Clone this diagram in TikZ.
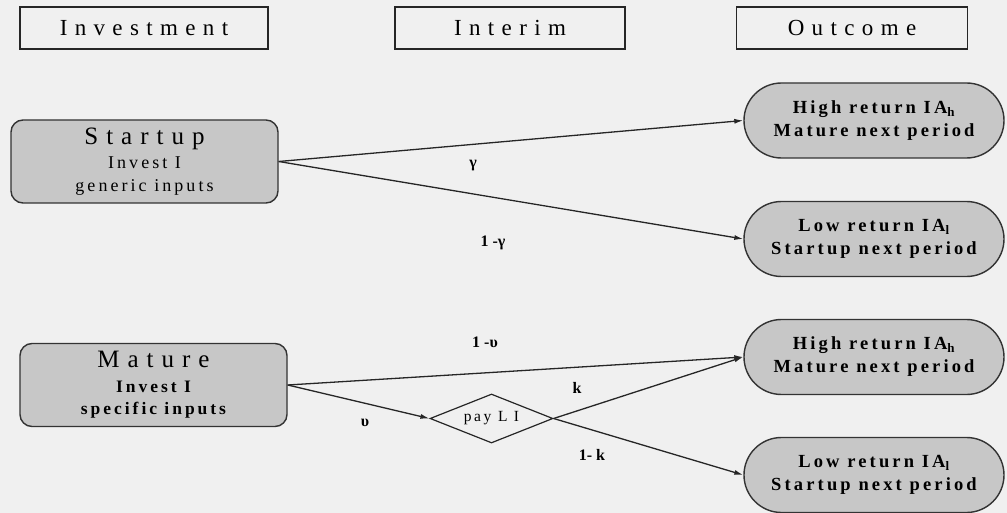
\documentclass[tikz,border=0pt]{standalone}
\usepackage{fontspec}
\setmainfont{Liberation Serif}
\newfontfamily\spaced[LetterSpace=32]{Liberation Serif}
\newfontfamily\wide[LetterSpace=17]{Liberation Serif}
\usetikzlibrary{arrows.meta,shapes.geometric,shapes.misc}
\begin{document}
\begin{tikzpicture}[x=1pt,y=-1pt,
  header/.style={draw=black!85,line width=1.1pt,minimum width=#1,minimum height=42pt,
    font=\spaced\fontsize{23}{25}\selectfont,inner sep=0pt},
  origin/.style={draw=black!80,line width=1.4pt,rounded corners=12pt,fill=black!22,
    minimum width=267pt,minimum height=83pt,align=center,inner sep=1pt,
    font=\wide\fontsize{18}{22.5}\selectfont},
  result/.style={draw=black!80,line width=1.4pt,rounded rectangle,fill=black!22,
    minimum width=262pt,minimum height=75pt,align=center,inner sep=1pt,
    font=\wide\bfseries\fontsize{18.5}{23}\selectfont},
  choice/.style={draw=black!85,line width=1.2pt,diamond,aspect=2.5,inner sep=0pt,
    minimum width=123pt,minimum height=49pt,font=\wide\fontsize{15.5}{17}\selectfont},
  flow/.style={draw=black!85,line width=1.3pt,-{Latex[length=9pt,width=5pt]}},
  prob/.style={font=\bfseries\fontsize{16}{18}\selectfont}]
\useasboundingbox[fill=black!6] (0,0) rectangle (1007,513);

% column headings
\node[header=248pt] (hinv) at (144,28) {Investment};
\node[header=230pt] (hint) at (510,28) {Interim};
\node[header=231pt] (hout) at (852,28) {Outcome};

% investment states
\node[origin] (startup) at (144.5,161.5)
  {{\spaced\fontsize{25}{26}\selectfont Startup}\\[2pt]
   Invest I\\generic inputs};
\node[origin,font=\wide\bfseries\fontsize{17.5}{22.5}\selectfont] (mature) at (153.5,385)
  {{\spaced\mdseries\fontsize{25}{26}\selectfont Mature}\\[2pt]
   Invest I\\specific inputs};

% outcomes
\node[result] (high1) at (874,120.5) {High return IA\textsubscript{h}\\Mature next period};
\node[result] (low1) at (874,239) {Low return IA\textsubscript{l}\\Startup next period};
\node[result] (high2) at (874,357) {High return IA\textsubscript{h}\\Mature next period};
\node[result] (low2) at (874,475) {Low return IA\textsubscript{l}\\Startup next period};

% interim decision
\node[choice] (pay) at (491.5,418.5) {pay L I};

% transitions
\draw[flow] (startup.east) -- (high1.west);
\draw[flow] (startup.east) -- (low1.west);
\draw[flow] (mature.east) -- (high2.west);
\draw[flow] (mature.east) -- (pay.west);
\draw[flow] (pay.east) -- (high2.west);
\draw[flow] (pay.east) -- (low2.west);

% probabilities
\node[prob] (pg) at (473,166) {γ};
\node[prob] (pg1) at (493,243) {1 -γ};
\node[prob] (pu1) at (485,342) {1 -υ};
\node[prob] (pu) at (365,423) {υ};
\node[prob] (pk) at (577,388) {k};
\node[prob] (pk1) at (592,455) {1-  k};
\end{tikzpicture}
\end{document}
